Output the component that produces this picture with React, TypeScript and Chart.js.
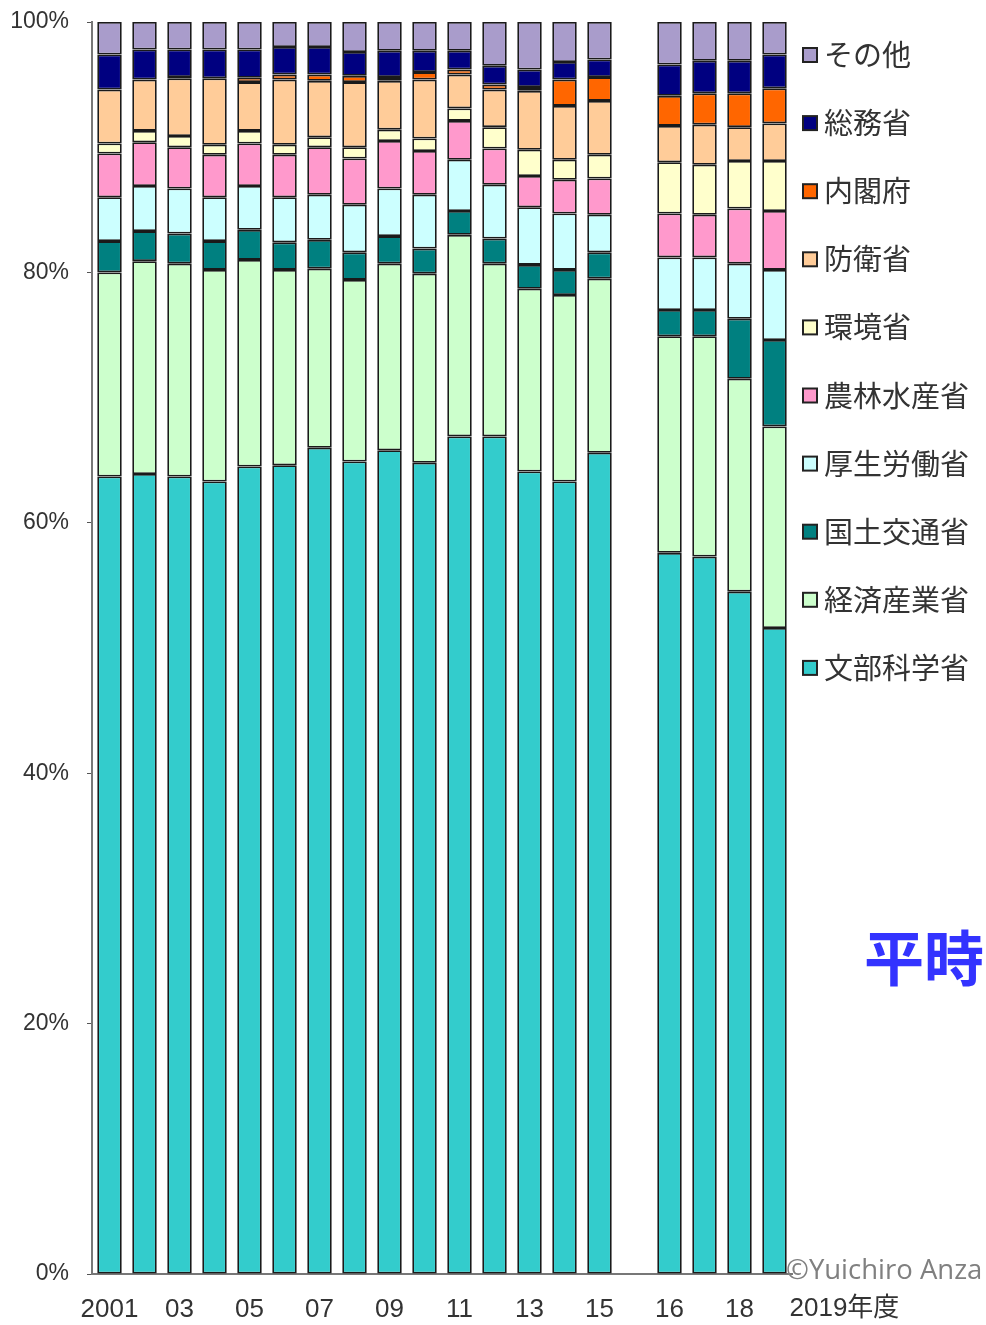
import React, { useEffect, useRef } from 'react';
import { Chart, registerables } from 'chart.js';

Chart.register(...registerables);

const categories = ['2001', '2002', '2003', '2004', '2005', '2006', '2007', '2008', '2009', '2010', '2011', '2012', '2013', '2014', '2015', '', '2016', '2017', '2018', '2019'];
const tickLabels = ['2001', '', '03', '', '05', '', '07', '', '09', '', '11', '', '13', '', '15', '', '16', '', '18', ''];
const lastTickLabel = '2019年度';
const yTicks = [0, 20, 40, 60, 80, 100];

const monbu = [63.7, 63.9, 63.7, 63.3, 64.5, 64.6, 66.0, 64.9, 65.8, 64.8, 66.9, 66.9, 64.1, 63.3, 65.6, null, 57.6, 57.3, 54.5, 51.6];
const keisan = [16.3, 17.0, 17.0, 16.9, 16.5, 15.6, 14.3, 14.5, 14.9, 15.1, 16.1, 13.8, 14.6, 14.9, 13.9, null, 17.3, 17.6, 17.0, 16.1];
const kokudo = [2.5, 2.4, 2.4, 2.3, 2.4, 2.2, 2.3, 2.2, 2.2, 2.0, 1.9, 2.0, 1.9, 2.0, 2.1, null, 2.1, 2.1, 4.8, 6.9];
const kousei = [3.5, 3.6, 3.6, 3.5, 3.5, 3.6, 3.6, 3.8, 3.8, 4.3, 4.1, 4.3, 4.6, 4.5, 3.0, null, 4.2, 4.2, 4.4, 5.6];
const nourin = [3.5, 3.5, 3.3, 3.4, 3.4, 3.4, 3.8, 3.7, 3.8, 3.5, 3.1, 2.9, 2.5, 2.7, 2.9, null, 3.5, 3.4, 4.4, 4.7];
const kankyo = [0.8, 0.9, 0.9, 0.8, 1.0, 0.8, 0.8, 0.9, 0.9, 1.0, 1.0, 1.7, 2.1, 1.6, 1.9, null, 4.1, 4.0, 3.8, 4.0];
const bouei = [4.3, 4.1, 4.6, 5.3, 3.9, 5.2, 4.5, 5.2, 3.9, 4.7, 2.7, 3.0, 4.7, 4.3, 4.3, null, 2.9, 3.2, 2.7, 3.0];
const naikaku = [0, 0, 0.1, 0, 0.35, 0.4, 0.5, 0.5, 0.3, 0.6, 0.4, 0.4, 0.3, 2.1, 1.9, null, 2.4, 2.5, 2.7, 2.8];
const soumu = [2.8, 2.4, 2.2, 2.3, 2.25, 2.2, 2.2, 1.9, 2.1, 1.7, 1.5, 1.5, 1.4, 1.4, 1.4, null, 2.5, 2.6, 2.6, 2.7];
const sonota = [2.6, 2.2, 2.2, 2.2, 2.2, 2.0, 2.0, 2.4, 2.3, 2.3, 2.3, 3.5, 3.8, 3.2, 3.0, null, 3.4, 3.1, 3.1, 2.6];

const seriesNames = ['文部科学省', '経済産業省', '国土交通省', '厚生労働省', '農林水産省', '環境省', '防衛省', '内閣府', '総務省', 'その他'];
const seriesValues = [monbu, keisan, kokudo, kousei, nourin, kankyo, bouei, naikaku, soumu, sonota];
const seriesColors = ['#33CCCC', '#CCFFCC', '#008080', '#CCFFFF', '#FF99CC', '#FFFFCC', '#FFCC99', '#FF6600', '#000080', '#A99CCB'];

const annotationText = '平時';
const creditText = '©Yuichiro Anza';

const W = 986;
const H = 1325;

const overlayPlugin = {
  id: 'overlay',
  afterDraw(chart: any) {
    const ctx = chart.ctx;
    const xs = chart.scales.x;
    const area = chart.chartArea;
    ctx.save();
    // last x label, left aligned right of last bar
    ctx.fillStyle = '#333';
    ctx.textAlign = 'left';
    ctx.textBaseline = 'middle';
    const lastX = xs.getPixelForValue(categories.length - 1);
    ctx.font = '26px "Liberation Sans", "Noto Sans CJK JP", sans-serif';
    ctx.fillText(lastTickLabel, lastX + 15, area.bottom + 35);

    // legend
    const ds = chart.data.datasets;
    const n = ds.length;
    for (let i = 0; i < n; i++) {
      const d = ds[n - 1 - i];
      const cy = 55 + i * 68.1;
      ctx.fillStyle = d.backgroundColor;
      ctx.fillRect(803, cy - 7, 14, 14);
      ctx.lineWidth = 2;
      ctx.strokeStyle = '#222';
      ctx.strokeRect(803, cy - 7, 14, 14);
      ctx.fillStyle = '#333';
      ctx.font = '29px "Noto Sans CJK JP", sans-serif';
      ctx.textAlign = 'left';
      ctx.textBaseline = 'middle';
      ctx.fillText(d.label, 824, cy);
    }

    // annotation
    ctx.fillStyle = '#3333FF';
    ctx.font = 'bold 60px "Noto Sans CJK JP", sans-serif';
    ctx.textBaseline = 'middle';
    ctx.fillText(annotationText, 864, 958);

    // credit
    ctx.fillStyle = '#808080';
    ctx.font = '27.5px "Open Sans", sans-serif';
    ctx.textBaseline = 'alphabetic';
    ctx.fillText(creditText, 786, 1279);
    ctx.restore();
  },
};

export default function App() {
  const ref = useRef<HTMLCanvasElement | null>(null);
  useEffect(() => {
    if (!ref.current) return;
    const chart = new Chart(ref.current, {
      type: 'bar',
      data: {
        labels: categories,
        datasets: seriesNames.map((name, i) => ({
          label: name,
          data: seriesValues[i],
          backgroundColor: seriesColors[i],
          borderColor: '#1a1a1a',
          borderWidth: 1.8,
          borderSkipped: false,
          categoryPercentage: 1,
          barPercentage: 0.7,
        })),
      },
      options: {
        responsive: false,
        animation: false,
        layout: { padding: { top: 22, right: 194, left: 0, bottom: 0 } },
        plugins: { legend: { display: false }, tooltip: { enabled: false } },
        scales: {
          x: {
            stacked: true,
            grid: { display: false, drawTicks: false },
            border: { display: true, color: '#777', width: 2 },
            ticks: {
              autoSkip: false,
              maxRotation: 0,
              padding: 20,
              color: '#333',
              font: { family: '"Liberation Sans", Arial, sans-serif', size: 26 },
              callback: (_v: any, i: number) => tickLabels[i],
            },
            afterFit: (s: any) => { s.height = H - 1274; },
          },
          y: {
            stacked: true,
            min: 0,
            max: 100,
            afterBuildTicks: (s: any) => { s.ticks = yTicks.map((v) => ({ value: v })); },
            grid: { drawOnChartArea: false, drawTicks: true, tickLength: 5, color: '#555' },
            border: { display: true, color: '#777', width: 2 },
            ticks: {
              padding: 18,
              color: '#333',
              font: { family: '"Liberation Sans", Arial, sans-serif', size: 23 },
              callback: (v: any) => v + '%',
            },
            afterFit: (s: any) => {
              s.width = 92;
              s.paddingTop = 0;
              s.paddingBottom = 0;
            },
          },
        },
      },
      plugins: [overlayPlugin],
    });
    return () => chart.destroy();
  }, []);
  return (
    <div style={{ position: 'absolute', left: 0, top: 0, width: W, height: H, background: '#fff' }}>
      <canvas ref={ref} width={W} height={H} style={{ display: 'block' }} />
    </div>
  );
}
